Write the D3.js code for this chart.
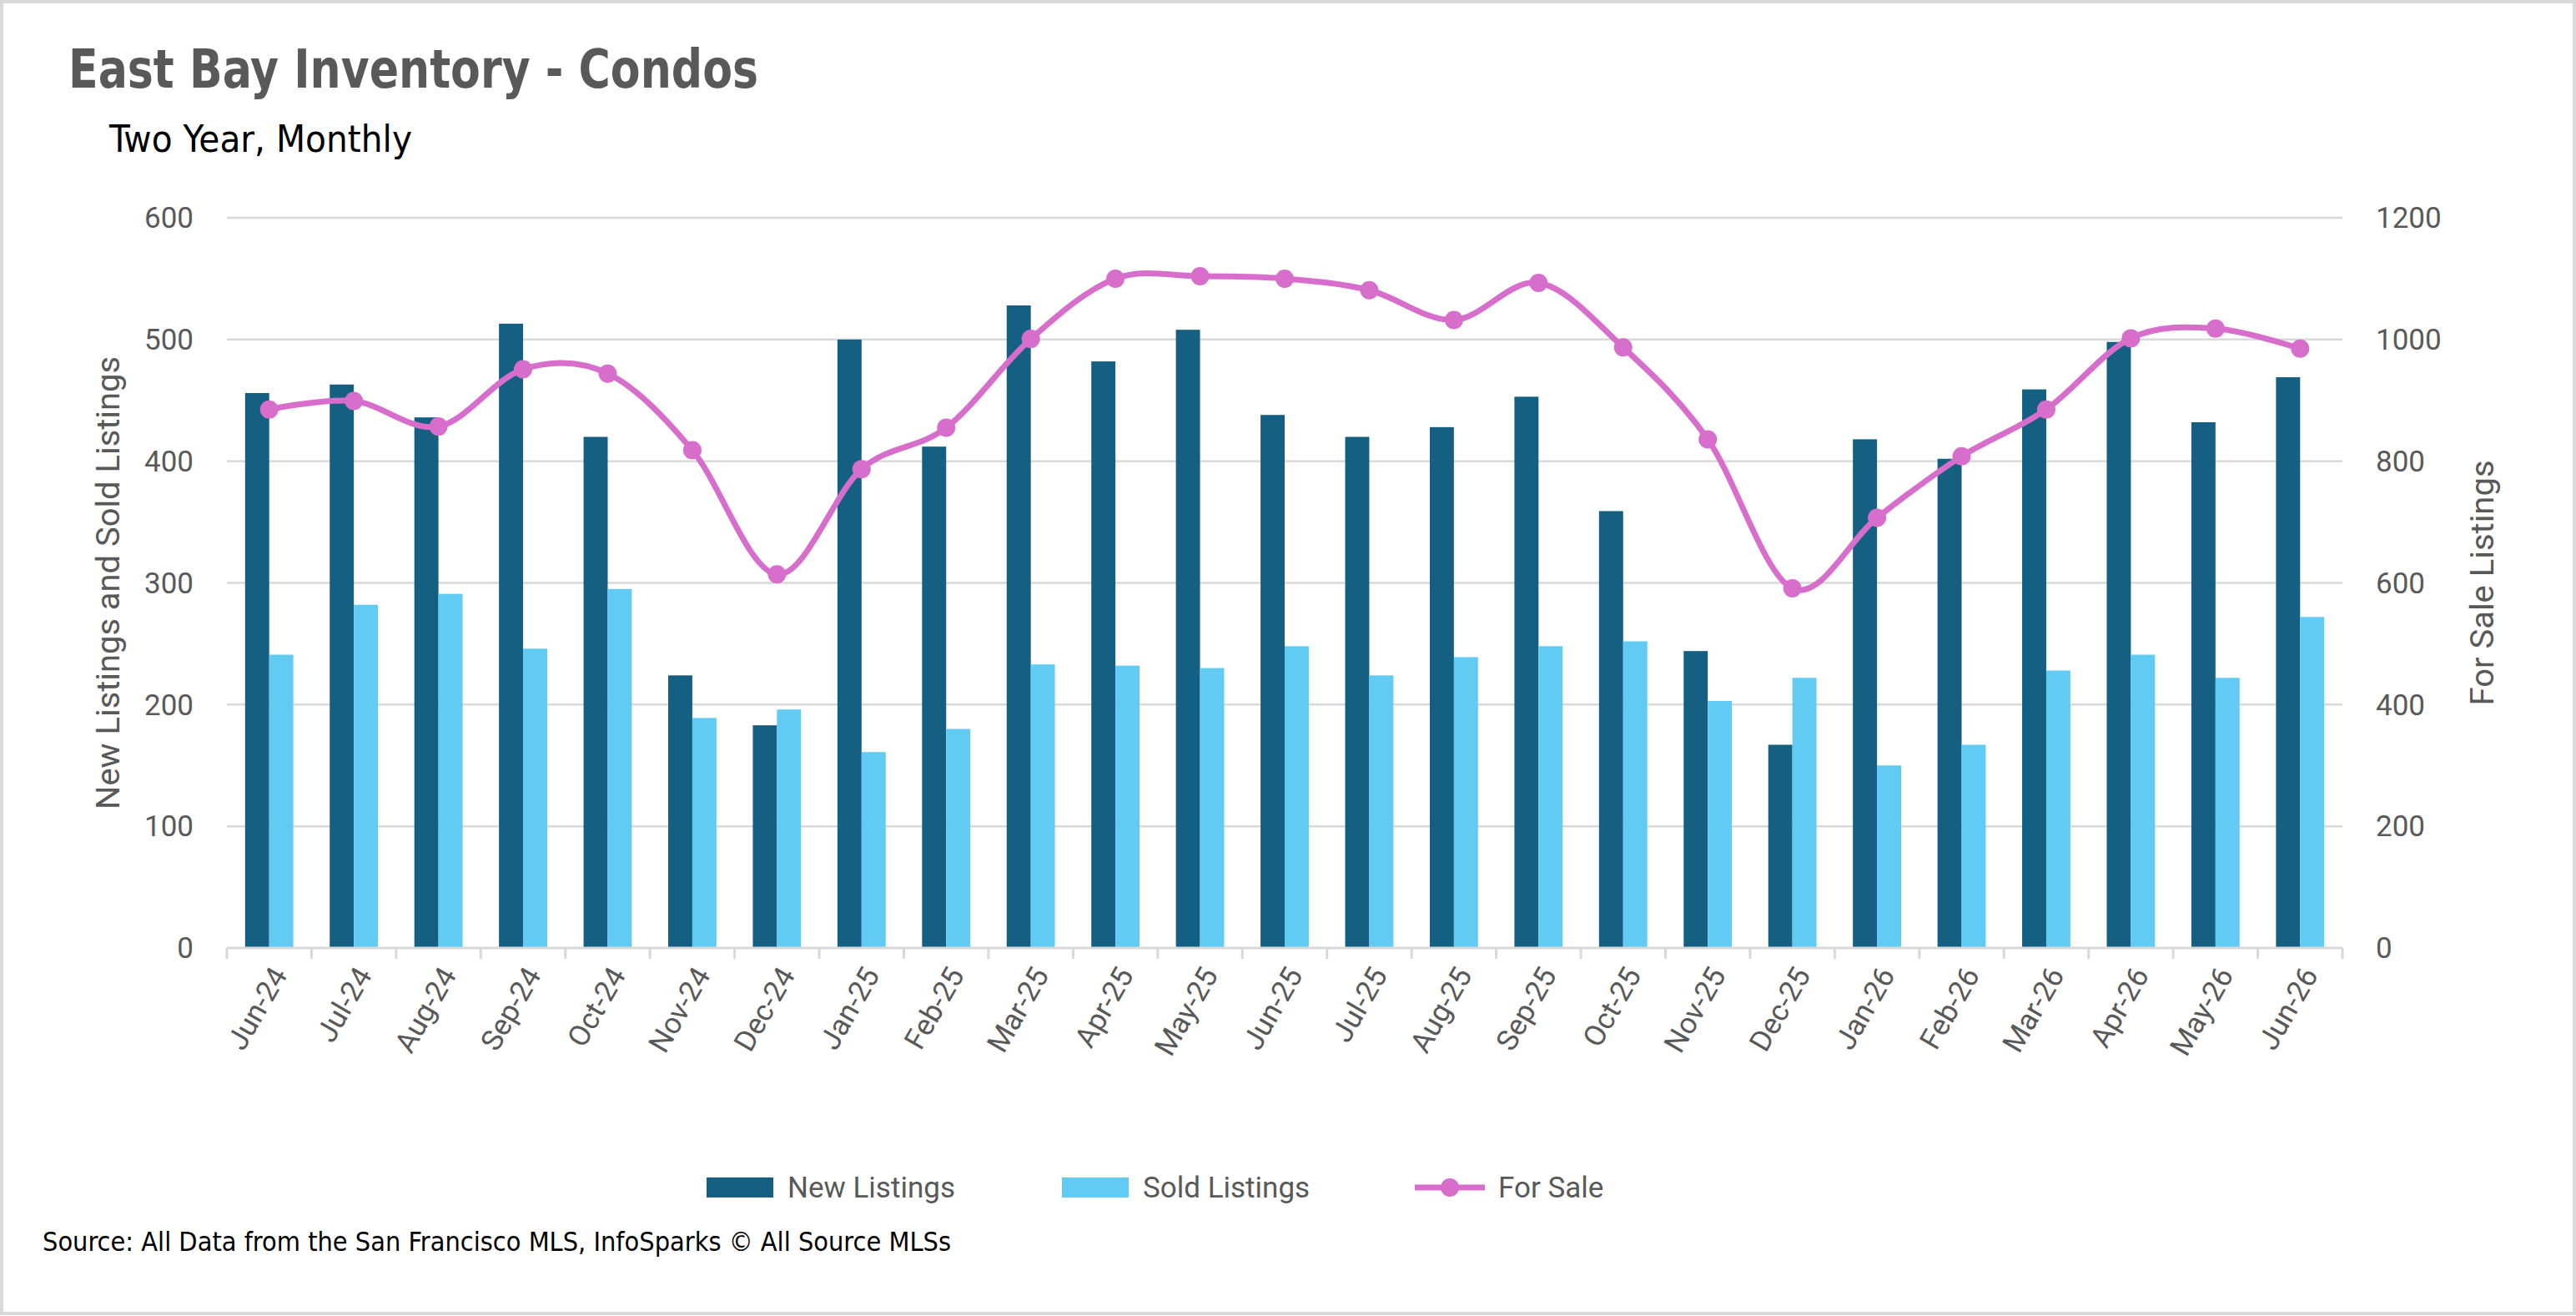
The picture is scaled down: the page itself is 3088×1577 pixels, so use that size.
<!DOCTYPE html>
<html>

<head>
    <meta charset="utf-8">
    <script src="https://d3js.org/d3.v7.min.js"></script>
    <style>
        body {
            margin: 0;
            background-color: #ffffff;
        }

        #inventory-svg .font {
            font-family: Roboto, "Open Sans", "Liberation Sans", sans-serif;
        }

        #inventory-svg .narrow {
            font-family: "Liberation Sans Narrow", "DejaVu Sans Condensed", "Roboto Condensed", sans-serif;
        }

        #inventory-svg .title {
            fill: #595959;
            font-size: 64px;
            font-weight: bold;
        }

        #inventory-svg .subtitle {
            fill: #000000;
            font-size: 44px;
        }

        #inventory-svg .tick-label {
            fill: #595959;
            font-size: 35px;
        }

        #inventory-svg .axis-title {
            fill: #595959;
            font-size: 38px;
        }

        #inventory-svg .legend-label {
            fill: #595959;
            font-size: 35px;
        }

        #inventory-svg .source {
            fill: #000000;
            font-size: 32px;
        }

        #inventory-svg .grid {
            stroke: #d9d9d9;
            stroke-width: 2.5;
        }

        #inventory-svg .axis-line {
            stroke: #d9d9d9;
            stroke-width: 3;
        }

        #inventory-svg .for-sale-line {
            fill: none;
            stroke: #d86ecc;
            stroke-width: 7;
        }

        #inventory-svg .for-sale-circle {
            fill: #d86ecc;
            stroke: none;
        }
    </style>
</head>

<body>

    <script>

        const MONTHS = ["Jun-24", "Jul-24", "Aug-24", "Sep-24", "Oct-24", "Nov-24", "Dec-24",
            "Jan-25", "Feb-25", "Mar-25", "Apr-25", "May-25", "Jun-25", "Jul-25", "Aug-25",
            "Sep-25", "Oct-25", "Nov-25", "Dec-25", "Jan-26", "Feb-26", "Mar-26", "Apr-26",
            "May-26", "Jun-26"];
        const NEW_LISTINGS = [456, 463, 436, 513, 420, 224, 183, 500, 412, 528, 482, 508, 438,
            420, 428, 453, 359, 244, 167, 418, 402, 459, 498, 432, 469];
        const SOLD_LISTINGS = [241, 282, 291, 246, 295, 189, 196, 161, 180, 233, 232, 230, 248,
            224, 239, 248, 252, 203, 222, 150, 167, 228, 241, 222, 272];
        const FOR_SALE = [885, 899, 857, 951, 944, 818, 614, 787, 855, 1001, 1100, 1104, 1100,
            1081, 1032, 1093, 987, 836, 591, 707, 808, 885, 1002, 1018, 985];
        const LEFT_TICKS = [0, 100, 200, 300, 400, 500, 600];
        const RIGHT_TICKS = [0, 200, 400, 600, 800, 1000, 1200];

        const SERIES_NAMES = ["New Listings", "Sold Listings", "For Sale"];
        const TITLE_TXT = "East Bay Inventory - Condos";
        const SUBTITLE_TXT = "Two Year, Monthly";
        const LEFT_AXIS_TXT = "New Listings and Sold Listings";
        const RIGHT_AXIS_TXT = "For Sale Listings";
        const SOURCE_TXT = "Source: All Data from the San Francisco MLS, InfoSparks \u00a9 All Source MLSs";

        const SVG_WIDTH = 3088;
        const SVG_HEIGHT = 1577;
        const PLOT_LEFT = 272;
        const PLOT_RIGHT = 2808;
        const PLOT_TOP = 261;
        const PLOT_BOTTOM = 1136;
        const NEW_COLOR = "#156082";
        const SOLD_COLOR = "#61cbf3";
        const CIRCLE_RADIUS = 11;

        // squeeze or stretch a text to a given width (fonts differ from the original)
        function fitWidth(sel, width) {
            var w = sel.node().getComputedTextLength();
            if (Math.abs(w - width) > 2) {
                sel.attr("textLength", width).attr("lengthAdjust", "spacingAndGlyphs");
            }
        }

        var svg = d3.select("body").append("svg")
            .attr("width", SVG_WIDTH)
            .attr("height", SVG_HEIGHT)
            .attr("id", "inventory-svg");

        svg.append("rect")
            .attr("x", 2)
            .attr("y", 2)
            .attr("width", SVG_WIDTH - 4)
            .attr("height", SVG_HEIGHT - 5)
            .attr("fill", "#ffffff")
            .attr("stroke", "#d9d9d9")
            .attr("stroke-width", 4);

        var title = svg.append("text")
            .attr("x", 82)
            .attr("y", 105)
            .text(TITLE_TXT)
            .classed("title narrow", true);
        fitWidth(title, 827);

        var subtitle = svg.append("text")
            .attr("x", 131)
            .attr("y", 182)
            .text(SUBTITLE_TXT)
            .classed("subtitle narrow", true);
        fitWidth(subtitle, 363);

        var xScale = d3.scaleBand()
            .domain(MONTHS)
            .range([PLOT_LEFT, PLOT_RIGHT])
            .paddingInner(0.43)
            .paddingOuter(0.215);

        var xSub = d3.scaleBand()
            .domain(["new", "sold"])
            .range([0, xScale.bandwidth()]);

        var yLeft = d3.scaleLinear()
            .domain([0, 600])
            .range([PLOT_BOTTOM, PLOT_TOP]);

        var yRight = d3.scaleLinear()
            .domain([0, 1200])
            .range([PLOT_BOTTOM, PLOT_TOP]);

        // gridlines
        svg.append("g")
            .selectAll("line")
            .data(LEFT_TICKS.filter(function(d) { return d > 0; }))
            .enter()
            .append("line")
            .attr("x1", PLOT_LEFT)
            .attr("x2", PLOT_RIGHT)
            .attr("y1", function(d) { return yLeft(d); })
            .attr("y2", function(d) { return yLeft(d); })
            .classed("grid", true);

        // left and right tick labels
        svg.append("g")
            .selectAll("text")
            .data(LEFT_TICKS)
            .enter()
            .append("text")
            .attr("x", PLOT_LEFT - 40)
            .attr("y", function(d) { return yLeft(d); })
            .attr("dy", "0.35em")
            .attr("text-anchor", "end")
            .text(function(d) { return d; })
            .classed("tick-label font", true);

        svg.append("g")
            .selectAll("text")
            .data(RIGHT_TICKS)
            .enter()
            .append("text")
            .attr("x", PLOT_RIGHT + 40)
            .attr("y", function(d) { return yRight(d); })
            .attr("dy", "0.35em")
            .text(function(d) { return d; })
            .classed("tick-label font", true);

        // bars
        var groups = svg.append("g")
            .selectAll("g")
            .data(MONTHS)
            .enter()
            .append("g")
            .attr("transform", function(d) { return "translate(" + xScale(d) + ",0)"; });

        groups.append("rect")
            .attr("x", xSub("new"))
            .attr("width", xSub.bandwidth())
            .attr("y", function(d, i) { return yLeft(NEW_LISTINGS[i]); })
            .attr("height", function(d, i) { return PLOT_BOTTOM - yLeft(NEW_LISTINGS[i]); })
            .attr("fill", NEW_COLOR);

        groups.append("rect")
            .attr("x", xSub("sold"))
            .attr("width", xSub.bandwidth())
            .attr("y", function(d, i) { return yLeft(SOLD_LISTINGS[i]); })
            .attr("height", function(d, i) { return PLOT_BOTTOM - yLeft(SOLD_LISTINGS[i]); })
            .attr("fill", SOLD_COLOR);

        // x axis line and ticks
        svg.append("line")
            .attr("x1", PLOT_LEFT)
            .attr("x2", PLOT_RIGHT)
            .attr("y1", PLOT_BOTTOM)
            .attr("y2", PLOT_BOTTOM)
            .classed("axis-line", true);

        var step = xScale.step();
        var tickXs = MONTHS.map(function(d) { return xScale(d) - xScale.paddingInner() * step / 2; });
        tickXs.push(PLOT_RIGHT);
        svg.append("g")
            .selectAll("line")
            .data(tickXs)
            .enter()
            .append("line")
            .attr("x1", function(d) { return d; })
            .attr("x2", function(d) { return d; })
            .attr("y1", PLOT_BOTTOM)
            .attr("y2", PLOT_BOTTOM + 13)
            .classed("axis-line", true);

        svg.append("g")
            .selectAll("text")
            .data(MONTHS)
            .enter()
            .append("text")
            .attr("transform", function(d) {
                var cx = xScale(d) + xScale.bandwidth() / 2;
                return "translate(" + (cx + 12) + "," + (PLOT_BOTTOM + 26) + ") rotate(-60)";
            })
            .attr("text-anchor", "end")
            .attr("dy", "0.35em")
            .text(function(d) { return d; })
            .classed("tick-label font", true);

        // for sale line (smoothed like the spreadsheet)
        var line = d3.line()
            .x(function(d, i) { return xScale(MONTHS[i]) + xScale.bandwidth() / 2; })
            .y(function(d) { return yRight(d); })
            .curve(d3.curveCatmullRom.alpha(0));

        svg.append("path")
            .datum(FOR_SALE)
            .attr("d", line)
            .classed("for-sale-line", true);

        svg.append("g")
            .selectAll("circle")
            .data(FOR_SALE)
            .enter()
            .append("circle")
            .attr("cx", function(d, i) { return xScale(MONTHS[i]) + xScale.bandwidth() / 2; })
            .attr("cy", function(d) { return yRight(d); })
            .attr("r", CIRCLE_RADIUS)
            .classed("for-sale-circle", true);

        // axis titles
        var leftTitle = svg.append("text")
            .attr("transform", "translate(143," + ((PLOT_TOP + PLOT_BOTTOM) / 2) + ") rotate(-90)")
            .attr("text-anchor", "middle")
            .text(LEFT_AXIS_TXT)
            .classed("axis-title font", true);
        fitWidth(leftTitle, 543);

        var rightTitle = svg.append("text")
            .attr("transform", "translate(2989," + ((PLOT_TOP + PLOT_BOTTOM) / 2) + ") rotate(-90)")
            .attr("text-anchor", "middle")
            .text(RIGHT_AXIS_TXT)
            .classed("axis-title font", true);
        fitWidth(rightTitle, 294);

        // legend
        const LEGEND_Y = 1423;
        var legend = svg.append("g");
        legend.append("rect")
            .attr("x", 847).attr("y", LEGEND_Y - 12)
            .attr("width", 80).attr("height", 24)
            .attr("fill", NEW_COLOR);
        legend.append("text")
            .attr("x", 944).attr("y", LEGEND_Y).attr("dy", "0.35em")
            .text(SERIES_NAMES[0])
            .classed("legend-label font", true);
        legend.append("rect")
            .attr("x", 1273).attr("y", LEGEND_Y - 12)
            .attr("width", 80).attr("height", 24)
            .attr("fill", SOLD_COLOR);
        legend.append("text")
            .attr("x", 1370).attr("y", LEGEND_Y).attr("dy", "0.35em")
            .text(SERIES_NAMES[1])
            .classed("legend-label font", true);
        legend.append("line")
            .attr("x1", 1696).attr("x2", 1780)
            .attr("y1", LEGEND_Y).attr("y2", LEGEND_Y)
            .classed("for-sale-line", true);
        legend.append("circle")
            .attr("cx", 1738).attr("cy", LEGEND_Y)
            .attr("r", CIRCLE_RADIUS)
            .classed("for-sale-circle", true);
        legend.append("text")
            .attr("x", 1796).attr("y", LEGEND_Y).attr("dy", "0.35em")
            .text(SERIES_NAMES[2])
            .classed("legend-label font", true);

        var source = svg.append("text")
            .attr("x", 51)
            .attr("y", 1488)
            .attr("dy", "0.35em")
            .text(SOURCE_TXT)
            .classed("source narrow", true);
        fitWidth(source, 1089);

    </script>
</body>

</html>
